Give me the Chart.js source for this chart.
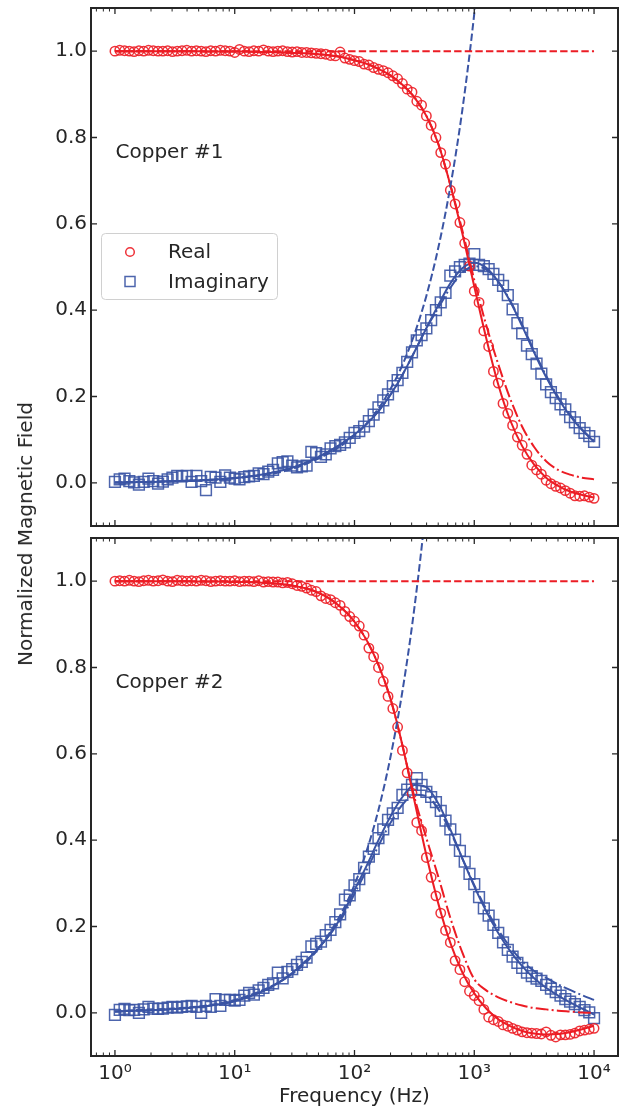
<!DOCTYPE html>
<html>
<head>
<meta charset="utf-8">
<script src="https://cdn.jsdelivr.net/npm/chart.js"></script>
<style>
  body { margin: 0; background: #fff; }
  #wrap { position: relative; width: 621px; height: 1112px; }
  canvas { position: absolute; left: 0; }
  #ylab {
    position: absolute; left: 25px; top: 534px;
    transform: translate(-50%, -50%) rotate(-90deg);
    font: 20px 'DejaVu Sans', sans-serif; color: #262626; white-space: nowrap;
  }
</style>
</head>
<body>
<div id="wrap">
  <canvas id="panelTop" width="621" height="532" style="top:0"></canvas>
  <canvas id="panelBottom" width="621" height="580" style="top:532px"></canvas>
  <div id="ylab">Normalized Magnetic Field</div>
</div>
<script>
// Frecuencias medidas (Hz), 25 por década
const freq = [1, 1.096, 1.202, 1.318, 1.445, 1.585, 1.738, 1.905, 2.089, 2.291, 2.512, 2.754, 3.020, 3.311, 3.631, 3.981, 4.365, 4.786, 5.248, 5.754, 6.310, 6.918, 7.586, 8.318, 9.120,
  10, 10.96, 12.02, 13.18, 14.45, 15.85, 17.38, 19.05, 20.89, 22.91, 25.12, 27.54, 30.20, 33.11, 36.31, 39.81, 43.65, 47.86, 52.48, 57.54, 63.10, 69.18, 75.86, 83.18, 91.20,
  100, 109.6, 120.2, 131.8, 144.5, 158.5, 173.8, 190.5, 208.9, 229.1, 251.2, 275.4, 302.0, 331.1, 363.1, 398.1, 436.5, 478.6, 524.8, 575.4, 631.0, 691.8, 758.6, 831.8, 912.0,
  1000, 1096, 1202, 1318, 1445, 1585, 1738, 1905, 2089, 2291, 2512, 2754, 3020, 3311, 3631, 3981, 4365, 4786, 5248, 5754, 6310, 6918, 7586, 8318, 9120, 10000];

// Copper #1 - datos
const real1 = [1.000, 1.002, 1.001, 1.000, 0.999, 1.001, 1.000, 1.002, 1.001, 1.000, 1.000, 1.001, 0.999, 1.000, 1.001, 1.002, 1.000, 1.001, 1.000, 0.999,
  1.001, 1.000, 1.002, 1.001, 1.000, 0.997, 1.004, 1.000, 0.999, 1.001, 1.000, 1.003, 1.000, 0.999, 1.000, 1.001,
  0.999, 0.998, 0.999, 0.997, 0.997, 0.996, 0.995, 0.994, 0.993, 0.990, 0.989, 0.998, 0.984, 0.981, 0.978, 0.976, 0.970, 0.968, 0.962,
  0.958, 0.955, 0.950, 0.943, 0.936, 0.925, 0.912, 0.905, 0.884, 0.875, 0.850, 0.828, 0.800, 0.765, 0.738, 0.678, 0.646, 0.603, 0.555,
  0.502, 0.444, 0.418, 0.352, 0.316, 0.258, 0.231, 0.184, 0.161, 0.133, 0.106, 0.087, 0.066, 0.041, 0.030, 0.020, 0.006, -0.002,
  -0.008, -0.012, -0.018, -0.024, -0.030, -0.031, -0.030, -0.033, -0.036];
const imag1 = [0.002, 0.008, 0.010, 0.004, 0.001, -0.004, 0.002, 0.010, 0.004, -0.002,
  0.003, 0.008, 0.012, 0.016, 0.015, 0.016, 0.002, 0.016, 0.004, -0.017,
  0.014, 0.012, 0.002, 0.017, 0.012, 0.010, 0.008, 0.013, 0.015, 0.016,
  0.022, 0.020, 0.026, 0.030, 0.045, 0.048, 0.050, 0.040, 0.036, 0.038,
  0.040, 0.072, 0.069, 0.060, 0.066, 0.080, 0.085, 0.088, 0.094, 0.104,
  0.116, 0.120, 0.130, 0.143, 0.158, 0.175, 0.191, 0.205, 0.224, 0.238,
  0.255, 0.280, 0.302, 0.330, 0.342, 0.358, 0.377, 0.400, 0.418, 0.440,
  0.480, 0.490, 0.500, 0.505, 0.508, 0.530, 0.505, 0.502, 0.495, 0.484,
  0.470, 0.456, 0.435, 0.402, 0.370, 0.346, 0.318, 0.298, 0.276, 0.253,
  0.228, 0.210, 0.196, 0.182, 0.170, 0.152, 0.140, 0.127, 0.116, 0.108,
  0.095];

// Copper #2 - datos
const real2 = [1.000, 1.001, 1.000, 1.002, 1.000, 0.999, 1.001, 1.002, 1.000, 1.001, 1.003, 1.000, 0.999, 1.002, 1.001, 1.000, 1.001, 1.000,
  1.002, 1.001, 0.999, 1.000, 1.001, 1.000, 1.000, 1.001, 0.999, 1.000, 1.000, 0.999, 1.001, 0.998, 0.999, 0.998, 0.998, 0.996,
  0.997, 0.994, 0.990, 0.988, 0.984, 0.979, 0.976, 0.966, 0.960, 0.957, 0.950, 0.944, 0.930, 0.918, 0.907, 0.896, 0.875, 0.845, 0.825,
  0.800, 0.768, 0.733, 0.705, 0.662, 0.608, 0.556, 0.509, 0.441, 0.422, 0.360, 0.314, 0.271, 0.231, 0.191, 0.163, 0.121, 0.100, 0.072,
  0.050, 0.040, 0.028, 0.008, -0.010, -0.016, -0.020, -0.028, -0.031, -0.036, -0.040, -0.044, -0.046, -0.047, -0.048, -0.049,
  -0.044, -0.052, -0.056, -0.051, -0.051, -0.050, -0.047, -0.042, -0.040, -0.038, -0.036];
const imag2 = [-0.005, 0.007, 0.009, 0.006, 0.007, 0.000, 0.008, 0.014, 0.010, 0.009,
  0.010, 0.012, 0.014, 0.012, 0.014, 0.015, 0.016, 0.014, 0.000, 0.016,
  0.014, 0.032, 0.016, 0.030, 0.030, 0.028, 0.030, 0.040, 0.046, 0.042,
  0.052, 0.058, 0.065, 0.068, 0.093, 0.080, 0.095, 0.101, 0.111, 0.118,
  0.128, 0.154, 0.160, 0.165, 0.180, 0.192, 0.210, 0.228, 0.262, 0.272,
  0.295, 0.310, 0.336, 0.362, 0.380, 0.405, 0.425, 0.447, 0.462, 0.475,
  0.505, 0.517, 0.528, 0.544, 0.528, 0.512, 0.500, 0.488, 0.468, 0.445,
  0.425, 0.401, 0.375, 0.350, 0.322, 0.298, 0.268, 0.242, 0.225, 0.204,
  0.185, 0.163, 0.146, 0.130, 0.116, 0.104, 0.093, 0.085, 0.079, 0.074,
  0.065, 0.056, 0.048, 0.040, 0.032, 0.026, 0.020, 0.014, 0.006, 0.001,
  -0.012];

// Curvas de ajuste (solid) y modelo (dash-dot), 10 por década
const fitFreq = [1, 1.259, 1.585, 1.995, 2.512, 3.162, 3.981, 5.012, 6.310, 7.943,
  10, 12.59, 15.85, 19.95, 25.12, 31.62, 39.81, 50.12, 63.10, 79.43,
  100, 125.9, 158.5, 199.5, 251.2, 316.2, 398.1, 501.2, 631.0, 794.3,
  1000, 1259, 1585, 1995, 2512, 3162, 3981, 5012, 6310, 7943, 10000];

const fitReal1 = [1.000, 1.000, 1.000, 1.000, 1.000, 1.000, 1.000, 1.000, 0.999, 0.999,
  0.999, 0.999, 0.998, 0.998, 0.997, 0.996, 0.995, 0.993, 0.990, 0.986,
  0.979, 0.971, 0.959, 0.944, 0.922, 0.893, 0.850, 0.785, 0.690, 0.578,
  0.455, 0.335, 0.228, 0.145, 0.085, 0.042, 0.012, -0.007, -0.020, -0.028, -0.034];
const modelReal1 = [1.000, 1.000, 1.000, 1.000, 1.000, 1.000, 1.000, 1.000, 0.999, 0.999,
  0.999, 0.999, 0.998, 0.998, 0.997, 0.996, 0.995, 0.993, 0.990, 0.986,
  0.979, 0.971, 0.959, 0.944, 0.922, 0.893, 0.850, 0.785, 0.690, 0.585,
  0.470, 0.365, 0.275, 0.195, 0.130, 0.083, 0.050, 0.030, 0.019, 0.012, 0.008];
const fitImag1 = [0.001, 0.001, 0.002, 0.002, 0.003, 0.004, 0.005, 0.006, 0.007, 0.009,
  0.011, 0.014, 0.018, 0.023, 0.029, 0.037, 0.047, 0.060, 0.075, 0.092,
  0.112, 0.136, 0.166, 0.204, 0.250, 0.303, 0.358, 0.412, 0.462, 0.497,
  0.510, 0.498, 0.466, 0.420, 0.363, 0.302, 0.245, 0.196, 0.155, 0.122, 0.095];
const modelImag1 = [0.001, 0.001, 0.002, 0.002, 0.003, 0.004, 0.005, 0.006, 0.007, 0.009,
  0.011, 0.014, 0.018, 0.023, 0.029, 0.037, 0.047, 0.060, 0.075, 0.092,
  0.112, 0.136, 0.166, 0.204, 0.250, 0.303, 0.358, 0.405, 0.452, 0.487,
  0.502, 0.494, 0.466, 0.422, 0.366, 0.305, 0.248, 0.199, 0.158, 0.124, 0.097];

const fitReal2 = [1.000, 1.000, 1.000, 1.000, 1.000, 1.000, 1.000, 0.999, 0.999, 0.999,
  0.998, 0.998, 0.997, 0.995, 0.993, 0.989, 0.983, 0.973, 0.958, 0.936,
  0.906, 0.864, 0.806, 0.728, 0.620, 0.492, 0.365, 0.253, 0.162, 0.094,
  0.045, 0.010, -0.015, -0.031, -0.042, -0.048, -0.050, -0.049, -0.045, -0.038, -0.030];
const modelReal2 = [1.000, 1.000, 1.000, 1.000, 1.000, 1.000, 1.000, 0.999, 0.999, 0.999,
  0.998, 0.998, 0.997, 0.995, 0.993, 0.989, 0.983, 0.973, 0.958, 0.936,
  0.906, 0.864, 0.806, 0.728, 0.620, 0.500, 0.405, 0.315, 0.220, 0.140,
  0.078, 0.052, 0.036, 0.025, 0.017, 0.011, 0.008, 0.005, 0.003, 0.001, 0.000];
const fitImag2 = [0.003, 0.004, 0.005, 0.006, 0.007, 0.009, 0.011, 0.014, 0.017, 0.021,
  0.027, 0.036, 0.046, 0.059, 0.076, 0.097, 0.122, 0.150, 0.184, 0.228,
  0.285, 0.340, 0.400, 0.455, 0.500, 0.528, 0.523, 0.485, 0.425, 0.358,
  0.293, 0.235, 0.185, 0.143, 0.108, 0.080, 0.058, 0.040, 0.024, 0.010, -0.004];
const modelImag2 = [0.003, 0.004, 0.005, 0.006, 0.007, 0.009, 0.011, 0.014, 0.017, 0.021,
  0.027, 0.036, 0.046, 0.059, 0.076, 0.097, 0.122, 0.150, 0.184, 0.222,
  0.276, 0.330, 0.387, 0.440, 0.482, 0.505, 0.502, 0.472, 0.420, 0.358,
  0.296, 0.240, 0.192, 0.152, 0.120, 0.097, 0.081, 0.066, 0.053, 0.041, 0.030];

// Aproximación de baja frecuencia (dashed)
const lowEnds = [1, 10000];
const lowReal = [1.0, 1.0];
const lowFreq1 = [1, 10, 31.62, 100, 158.5, 199.5, 251.2, 316.2, 398.1, 501.2, 631.0, 794.3, 1000, 1259];
const lowImag1 = [0.001, 0.011, 0.034, 0.109, 0.172, 0.217, 0.273, 0.344, 0.433, 0.545, 0.686, 0.863, 1.087, 1.368];
const lowFreq2 = [1, 10, 31.62, 50.12, 79.43, 100, 125.9, 158.5, 199.5, 251.2, 316.2, 398.1, 501.2];
const lowImag2 = [0.003, 0.030, 0.094, 0.149, 0.236, 0.297, 0.374, 0.470, 0.592, 0.745, 0.938, 1.181, 1.487];

// Ticks
const xMajor = [1, 10, 100, 1000, 10000];
const xMinor = [0.7, 0.8, 0.9, 2, 3, 4, 5, 6, 7, 8, 9, 20, 30, 40, 50, 60, 70, 80, 90,
  200, 300, 400, 500, 600, 700, 800, 900, 2000, 3000, 4000, 5000, 6000, 7000, 8000, 9000];
const yTicks = [0.0, 0.2, 0.4, 0.6, 0.8, 1.0];

const FONT = "'DejaVu Sans', sans-serif";
const INK = '#262626';
const RED = '#ec1c24';
const BLUE = '#3a54a4';
const RED_MK = 'rgba(236, 28, 36, 0.9)';
const BLUE_MK = 'rgba(58, 84, 164, 0.9)';
const DASH = [7.4, 3.2];
const DASHDOT = [12.8, 3.2, 2, 3.2];
const SUP = ['⁰', '¹', '²', '³', '⁴'];

const pts = (xs, ys) => xs.map((x, i) => ({ x, y: ys[i] }));

const markerSet = (label, xs, ys, color, style, r) => ({
    label, data: pts(xs, ys), showLine: false,
    pointStyle: style, pointRadius: r, pointBorderWidth: 1.5,
    pointBorderColor: color, pointBackgroundColor: 'rgba(0,0,0,0)',
    order: 2, clip: 0
});

const lineSet = (xs, ys, color, dash) => ({
    data: pts(xs, ys), showLine: true, pointRadius: 0,
    borderColor: color, borderWidth: 2, borderDash: dash,
    cubicInterpolationMode: 'monotone', order: 1, clip: 0
});

/**
 * Marco con ticks hacia dentro en los 4 lados (estilo matplotlib)
 */
const frameTicks = {
    id: 'frameTicks',
    afterDraw(chart) {
        const { ctx, chartArea: a } = chart;
        const xs = chart.scales.x, ys = chart.scales.y;
        ctx.save();
        ctx.strokeStyle = INK;
        xs.ticks.forEach(t => {
            const major = xMajor.includes(t.value);
            const px = xs.getPixelForValue(t.value);
            const len = major ? 6 : 3.5;
            ctx.lineWidth = major ? 1.3 : 1;
            ctx.beginPath();
            ctx.moveTo(px, a.bottom); ctx.lineTo(px, a.bottom - len);
            ctx.moveTo(px, a.top); ctx.lineTo(px, a.top + len);
            ctx.stroke();
        });
        ctx.lineWidth = 1.3;
        ys.ticks.forEach(t => {
            const py = ys.getPixelForValue(t.value);
            ctx.beginPath();
            ctx.moveTo(a.left, py); ctx.lineTo(a.left + 6, py);
            ctx.moveTo(a.right, py); ctx.lineTo(a.right - 6, py);
            ctx.stroke();
        });
        ctx.lineWidth = 2;
        ctx.strokeRect(a.left, a.top, a.right - a.left, a.bottom - a.top);
        ctx.restore();
    }
};

/**
 * Rótulo del panel y leyenda (solo panel superior)
 */
const panelNotes = {
    id: 'panelNotes',
    afterDatasetsDraw(chart, args, opts) {
        const { ctx, chartArea: a } = chart;
        ctx.save();
        ctx.font = `20px ${FONT}`;
        ctx.fillStyle = INK;
        ctx.textBaseline = 'alphabetic';
        ctx.fillText(opts.text, a.left + 24.5, a.top + 150);

        if (opts.legend) {
            const bx = a.left + 10.5, by = a.top + 225.5;
            ctx.beginPath();
            ctx.roundRect(bx, by, 176, 66, 4);
            ctx.fillStyle = 'rgba(255,255,255,0.8)';
            ctx.fill();
            ctx.strokeStyle = '#d0d0d0';
            ctx.lineWidth = 1;
            ctx.stroke();

            ctx.lineWidth = 1.5;
            ctx.strokeStyle = RED_MK;
            ctx.beginPath();
            ctx.arc(a.left + 39, a.top + 244, 4.3, 0, Math.PI * 2);
            ctx.stroke();
            ctx.strokeStyle = BLUE_MK;
            ctx.strokeRect(a.left + 34, a.top + 268.5, 10, 10);

            ctx.fillStyle = INK;
            ctx.fillText('Real', a.left + 77, a.top + 249.5);
            ctx.fillText('Imaginary', a.left + 77, a.top + 280);
        }
        ctx.restore();
    }
};

const makePanel = (canvasId, d, note, bottom) => {
    return new Chart(document.getElementById(canvasId), {
        type: 'scatter',
        data: {
            datasets: [
                lineSet(lowEnds, lowReal, RED, DASH),
                lineSet(d.lowFreq, d.lowImag, BLUE, DASH),
                lineSet(fitFreq, d.modelReal, RED, DASHDOT),
                lineSet(fitFreq, d.modelImag, BLUE, DASHDOT),
                lineSet(fitFreq, d.fitReal, RED, []),
                lineSet(fitFreq, d.fitImag, BLUE, []),
                markerSet('Real', freq, d.real, RED_MK, 'circle', 4.7),
                markerSet('Imaginary', freq, d.imag, BLUE_MK, 'rect', 7.6)
            ]
        },
        options: {
            responsive: false,
            devicePixelRatio: 1,
            animation: false,
            events: [],
            layout: {
                autoPadding: false, // sin esto Chart.js encoge el área por el tamaño de los marcadores
                padding: bottom ? { top: 6, right: 3, bottom: 0, left: 0 } : { top: 8, right: 3, bottom: 6, left: 0 }
            },
            scales: {
                x: {
                    type: 'logarithmic',
                    bounds: 'data',
                    min: 0.631, max: 15849,
                    afterBuildTicks: s => { s.ticks = [...xMajor, ...xMinor].sort((p, q) => p - q).map(v => ({ value: v })); },
                    afterFit: s => { s.height = bottom ? 56 : 0; s.paddingLeft = 0; s.paddingRight = 0; },
                    grid: { display: false, drawTicks: false },
                    border: { display: false },
                    ticks: {
                        display: bottom, autoSkip: false, maxRotation: 0, padding: 6,
                        color: INK, font: { family: FONT, size: 20 },
                        callback: v => xMajor.includes(v) ? '10' + SUP[Math.round(Math.log10(v))] : ''
                    },
                    title: {
                        display: bottom, text: 'Frequency (Hz)', color: INK,
                        font: { family: FONT, size: 20 }, padding: { top: 0, bottom: 3 }
                    }
                },
                y: {
                    min: -0.1, max: 1.1,
                    afterBuildTicks: s => { s.ticks = yTicks.map(v => ({ value: v })); },
                    afterFit: s => { s.width = 91; s.paddingTop = 0; s.paddingBottom = 0; },
                    grid: { display: false, drawTicks: false },
                    border: { display: false },
                    ticks: {
                        padding: 4, color: INK, font: { family: FONT, size: 20 },
                        callback: v => v.toFixed(1)
                    }
                }
            },
            plugins: {
                legend: { display: false },
                tooltip: { enabled: false },
                panelNotes: note
            }
        },
        plugins: [frameTicks, panelNotes]
    });
};

makePanel('panelTop', {
    real: real1, imag: imag1, fitReal: fitReal1, fitImag: fitImag1,
    modelReal: modelReal1, modelImag: modelImag1, lowFreq: lowFreq1, lowImag: lowImag1
}, { text: 'Copper #1', legend: true }, false);

makePanel('panelBottom', {
    real: real2, imag: imag2, fitReal: fitReal2, fitImag: fitImag2,
    modelReal: modelReal2, modelImag: modelImag2, lowFreq: lowFreq2, lowImag: lowImag2
}, { text: 'Copper #2', legend: false }, true);
</script>
</body>
</html>
